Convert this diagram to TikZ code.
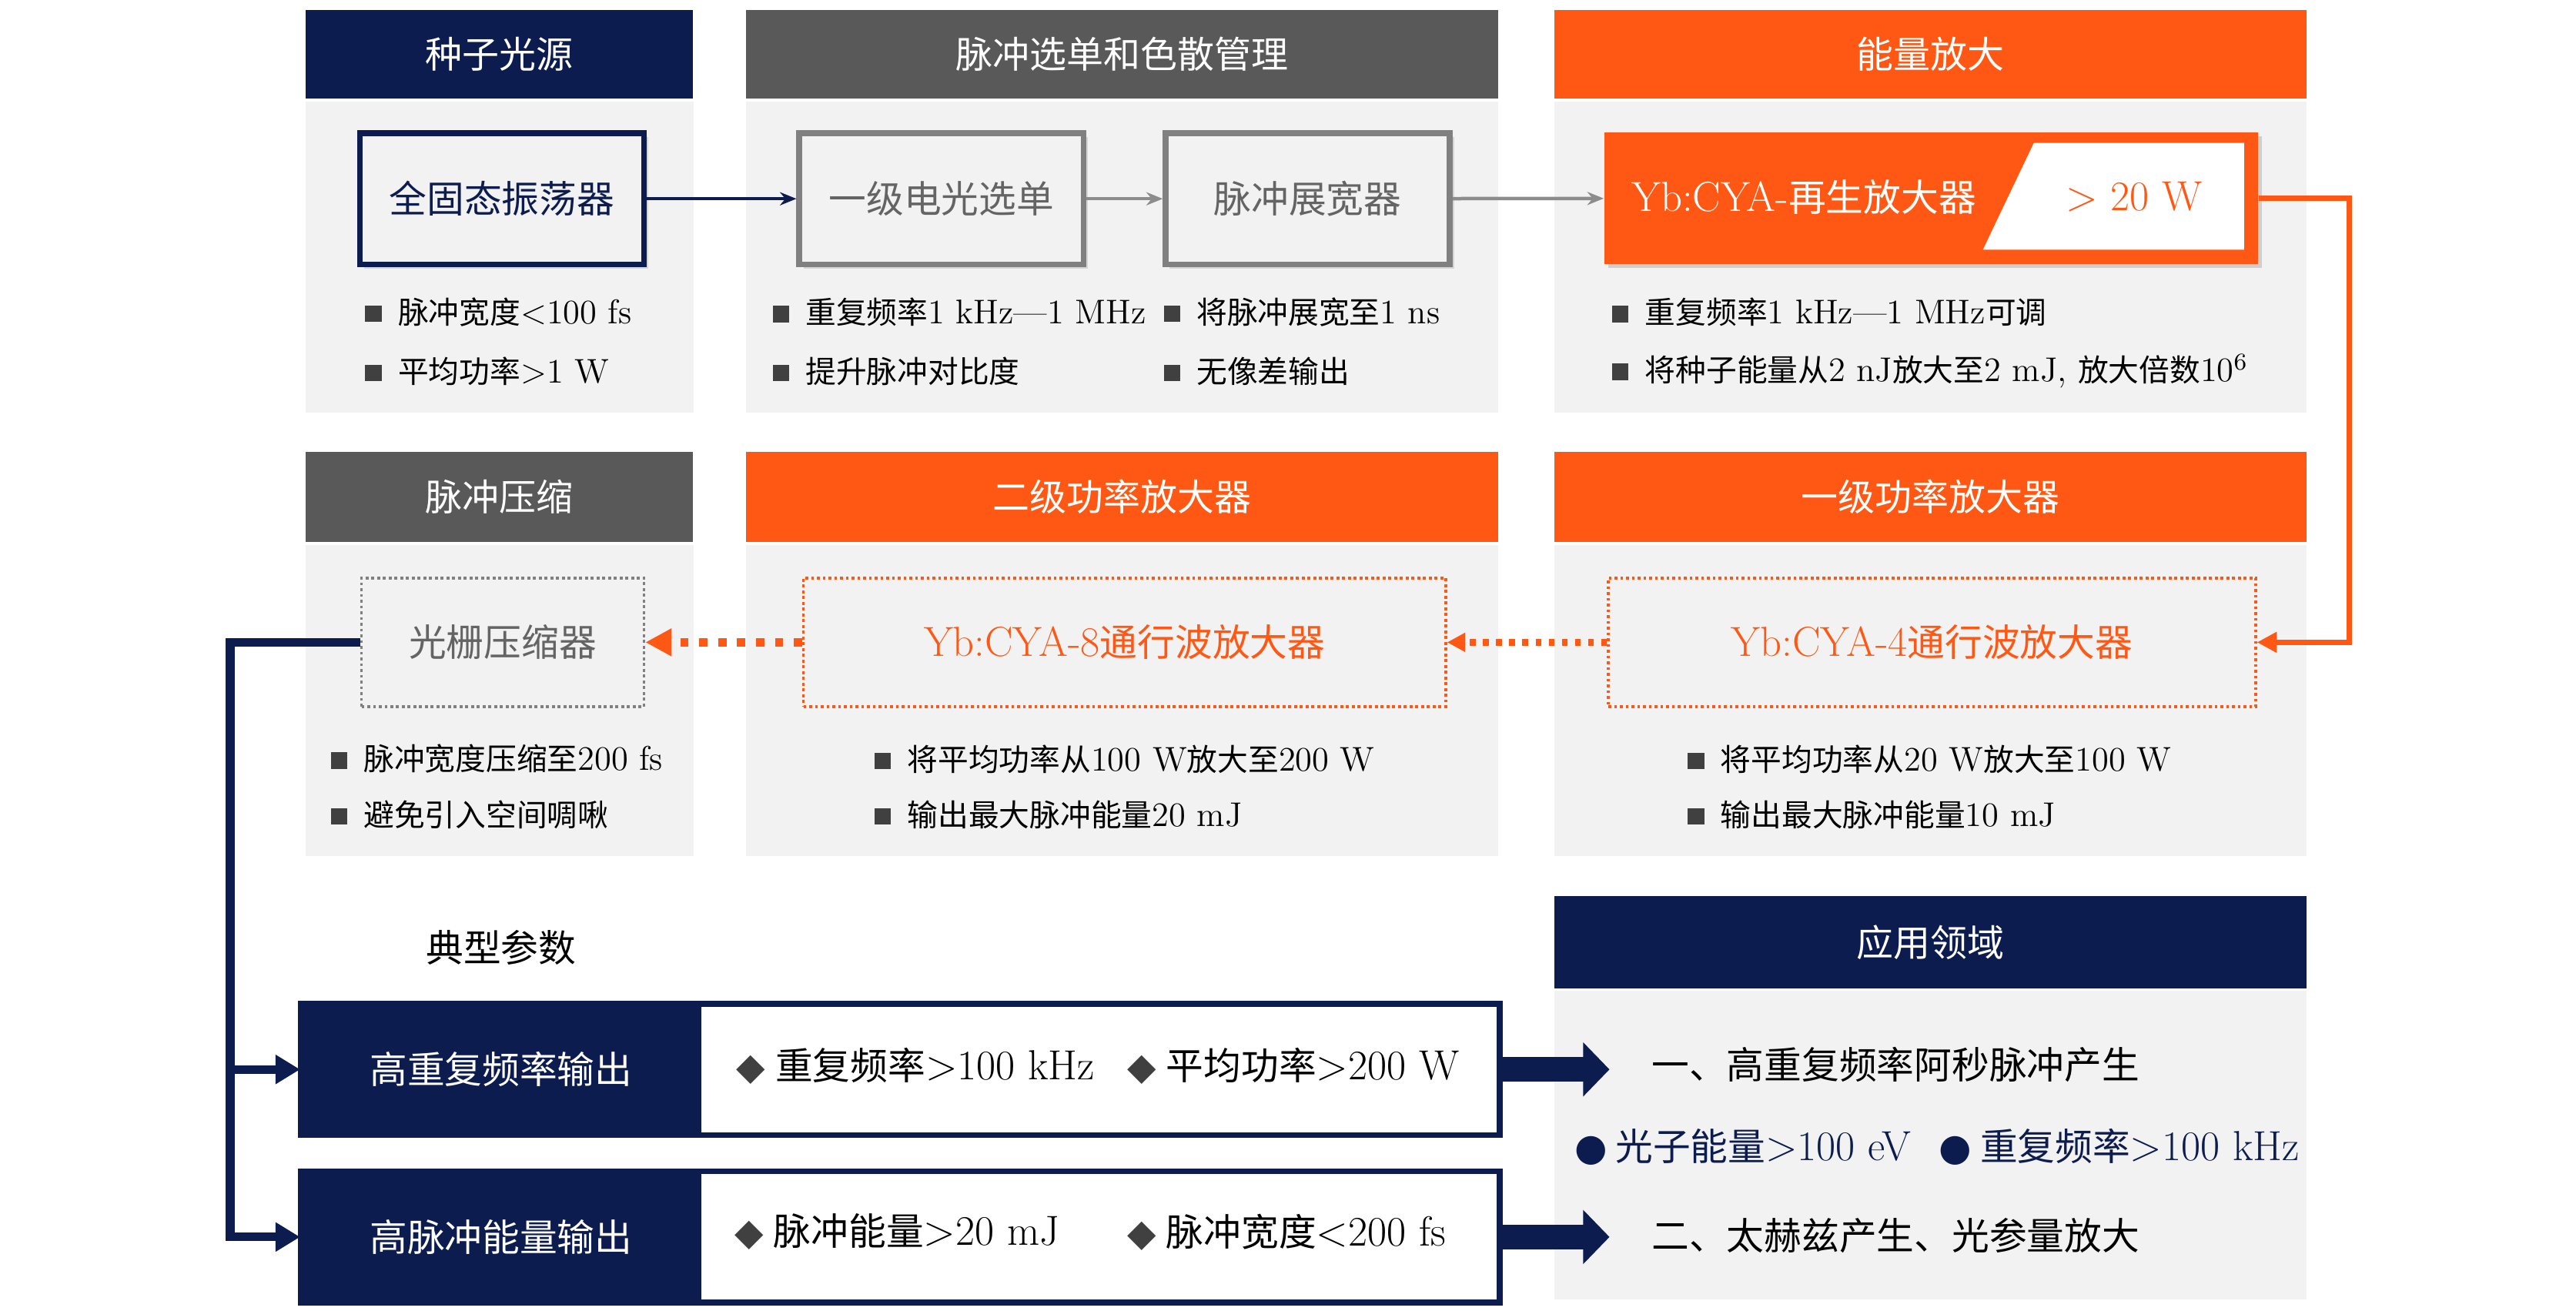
\documentclass[tikz,border=0pt]{standalone}
\usepackage{fontspec}
\usepackage{tikz}
\usetikzlibrary{arrows.meta,shadows}
\setmainfont{Latin Modern Roman}[Scale=1.12]
\newfontfamily\cjk{Noto Sans CJK SC}
\newfontfamily\sym{DejaVu Sans}
\definecolor{navy}{RGB}{12,28,78}
\definecolor{orange}{RGB}{255,88,20}
\definecolor{hdrgray}{RGB}{89,89,89}
\definecolor{panelgray}{RGB}{242,242,242}
\definecolor{boxgray}{RGB}{128,128,128}
\definecolor{txtgray}{RGB}{100,100,100}
\definecolor{arrgray}{RGB}{140,140,140}
\definecolor{sqgray}{RGB}{64,64,64}
\newcommand\hdrsize{\fontsize{12.8pt}{15pt}\selectfont}
\newcommand\boxsize{\fontsize{13pt}{15pt}\selectfont}
\newcommand\itemsize{\fontsize{10.6pt}{13pt}\selectfont}
\newcommand\bigsize{\fontsize{13pt}{16pt}\selectfont}
\newcommand\sq{{\color{sqgray}\rule[0.02cm]{0.2cm}{0.2cm}}\hspace{0.2cm}}
\newcommand\dm{{\color{sqgray}\sym ◆}\hspace{0.12cm}}
\newcommand\bt{{\color{navy}\sym ●}\hspace{0.1cm}}
% CJK characters switch to the CJK font by themselves
\newcount\cjkn
\XeTeXinterchartokenstate=1
\newXeTeXintercharclass\cjkclass
\cjkn="4E00
\loop
  \XeTeXcharclass\cjkn=\cjkclass
  \ifnum\cjkn<"9FFF \advance\cjkn by 1
\repeat
\XeTeXcharclass"3001=\cjkclass
\XeTeXinterchartoks 0 \cjkclass={\begingroup\cjk}
\XeTeXinterchartoks 4095 \cjkclass={\begingroup\cjk}
\XeTeXinterchartoks \cjkclass 0={\endgroup}
\XeTeXinterchartoks \cjkclass 4095={\endgroup}
\begin{document}
\begin{tikzpicture}[x=0.02cm,y=-0.02cm,
  hdr/.style={rectangle,inner sep=0,text=white,font=\hdrsize,minimum height=1.08cm},
  solidbox/.style={rectangle,draw,line width=2pt,fill=panelgray,minimum width=3.46cm,minimum height=1.6cm,font=\boxsize,
    drop shadow={opacity=0.25,shadow xshift=0.05cm,shadow yshift=-0.05cm}},
  dotbox/.style={rectangle,draw,densely dotted,line width=1pt,fill=panelgray,minimum height=1.57cm,font=\boxsize},
  item/.style={anchor=west,inner sep=0,font=\itemsize},
  thinarr/.style={line width=1.2pt,-{Stealth[length=0.2cm,width=0.16cm]}},
  bigarr/.style={navy,line width=0.3cm,-{Triangle[length=0.32cm,width=0.64cm]}}]
\fill[white] (0,0) rectangle (1568,798);
\useasboundingbox (0,0) rectangle (1568,798);

% row 1
\node[hdr,fill=navy,minimum width=4.72cm] (h1) at (304,33) {种子光源};
\node[hdr,fill=hdrgray,minimum width=9.16cm] (h2) at (683,33) {脉冲选单和色散管理};
\node[hdr,fill=orange,minimum width=9.16cm] (h3) at (1175,33) {能量放大};
\fill[panelgray] (186,62) rectangle (422,251);
\fill[panelgray] (454,62) rectangle (912,251);
\fill[panelgray] (946,62) rectangle (1404,251);

\node[solidbox,draw=navy,text=navy] (osc) at (305.5,121) {全固态振荡器};
\node[solidbox,draw=boxgray,text=txtgray] (sel) at (573,121) {一级电光选单};
\node[solidbox,draw=boxgray,text=txtgray] (str) at (796,121) {脉冲展宽器};
\node[rectangle,fill=orange,minimum width=7.96cm,minimum height=1.6cm,
  drop shadow={opacity=0.3,shadow xshift=0.05cm,shadow yshift=-0.05cm}] (yb) at (1175.5,120.6) {};
\fill[white] (1238,87) -- (1366,87) -- (1366,152) -- (1207,152) -- cycle;
\node[font=\boxsize,text=white] (ybt) at (1098,120) {Yb:CYA-再生放大器};
\node[font=\boxsize,text=orange] (pw) at (1299,120) {> 20 W};

\node[item] (a1) at (222,190) {\sq 脉冲宽度<100 fs};
\node[item] (a2) at (222,226) {\sq 平均功率>1 W};
\node[item] (b1) at (470,190) {\sq 重复频率1 kHz—1 MHz};
\node[item] (b2) at (470,226) {\sq 提升脉冲对比度};
\node[item] (b3) at (708,190) {\sq 将脉冲展宽至1 ns};
\node[item] (b4) at (708,226) {\sq 无像差输出};
\node[item] (c1) at (981,190) {\sq 重复频率1 kHz—1 MHz可调};
\node[item] (c2) at (981,226) {\sq 将种子能量从2 nJ放大至2 mJ, 放大倍数10\textsuperscript{6}};

% row 2
\node[hdr,fill=hdrgray,minimum width=4.72cm,minimum height=1.1cm] (h4) at (304,302.5) {脉冲压缩};
\node[hdr,fill=orange,minimum width=9.16cm,minimum height=1.1cm] (h5) at (683,302.5) {二级功率放大器};
\node[hdr,fill=orange,minimum width=9.16cm,minimum height=1.1cm] (h6) at (1175,302.5) {一级功率放大器};
\fill[panelgray] (186,332) rectangle (422,521);
\fill[panelgray] (454,332) rectangle (912,521);
\fill[panelgray] (946,332) rectangle (1404,521);

\node[dotbox,draw=boxgray,text=txtgray,minimum width=3.44cm] (comp) at (306,391) {光栅压缩器};
\node[dotbox,draw=orange,text=orange,minimum width=7.82cm] (pa8) at (684.5,391) {Yb:CYA-8通行波放大器};
\node[dotbox,draw=orange,text=orange,minimum width=7.88cm] (pa4) at (1176,391) {Yb:CYA-4通行波放大器};

\node[item] (d1) at (201,462) {\sq 脉冲宽度压缩至200 fs};
\node[item] (d2) at (201,496) {\sq 避免引入空间啁啾};
\node[item] (e1) at (532,462) {\sq 将平均功率从100 W放大至200 W};
\node[item] (e2) at (532,496) {\sq 输出最大脉冲能量20 mJ};
\node[item] (f1) at (1027,462) {\sq 将平均功率从20 W放大至100 W};
\node[item] (f2) at (1027,496) {\sq 输出最大脉冲能量10 mJ};

% row 3
\node[font=\boxsize] (typ) at (305,577) {典型参数};
\node[hdr,fill=navy,minimum width=9.16cm,minimum height=1.12cm] (h7) at (1175,573.6) {应用领域};
\fill[panelgray] (946,603) rectangle (1404,791);

\node[rectangle,draw=navy,line width=2pt,fill=white,minimum width=14.6cm,minimum height=1.6cm] (o1v) at (548,651) {};
\node[rectangle,fill=navy,text=white,font=\boxsize,minimum width=4.88cm,minimum height=1.6cm] (o1) at (305,651) {高重复频率输出};
\node[rectangle,draw=navy,line width=2pt,fill=white,minimum width=14.6cm,minimum height=1.6cm] (o2v) at (548,753) {};
\node[rectangle,fill=navy,text=white,font=\boxsize,minimum width=4.88cm,minimum height=1.6cm] (o2) at (305,753) {高脉冲能量输出};

\node[item,font=\bigsize] (p1) at (448,649) {\dm 重复频率>100 kHz};
\node[item,font=\bigsize] (p2) at (686,649) {\dm 平均功率>200 W};
\node[item,font=\bigsize] (p3) at (447,750) {\dm 脉冲能量>20 mJ};
\node[item,font=\bigsize] (p4) at (686,750) {\dm 脉冲宽度<200 fs};

\node[item,font=\bigsize] (u1) at (1005,648) {一、高重复频率阿秒脉冲产生};
\node[item,font=\boxsize,text=navy] (u2) at (958,698) {\bt 光子能量>100 eV};
\node[item,font=\boxsize,text=navy] (u3) at (1180,698) {\bt 重复频率>100 kHz};
\node[item,font=\bigsize] (u4) at (1005,752) {二、太赫兹产生、光参量放大};

% connectors
\draw[thinarr,navy] (osc) -- (sel);
\draw[thinarr,arrgray] (sel) -- (str);
\draw[thinarr,arrgray] (str) -- (yb);
\draw[orange,line width=1.8pt,-{Triangle[length=0.24cm,width=0.24cm]}] (yb.east) -- ++(55,0) |- (pa4.east);
\draw[orange,line width=0.08cm,dash pattern=on 0.07cm off 0.09cm,-{Triangle[length=0.22cm,width=0.22cm]}] (pa4) -- (pa8);
\draw[orange,line width=0.11cm,dash pattern=on 0.1cm off 0.13cm,-{Triangle[length=0.32cm,width=0.32cm]}] (pa8) -- (comp);
\draw[navy,line width=3pt,-{Triangle[length=0.3cm,width=0.34cm]}] (comp.west) -- ++(-79,0) coordinate (br) |- (o1.west);
\draw[navy,line width=3pt,-{Triangle[length=0.3cm,width=0.34cm]}] (br) |- (o2.west);
\draw[bigarr] (o1v.east) -- ++(65,0);
\draw[bigarr] (o2v.east) -- ++(65,0);
\end{tikzpicture}
\end{document}
